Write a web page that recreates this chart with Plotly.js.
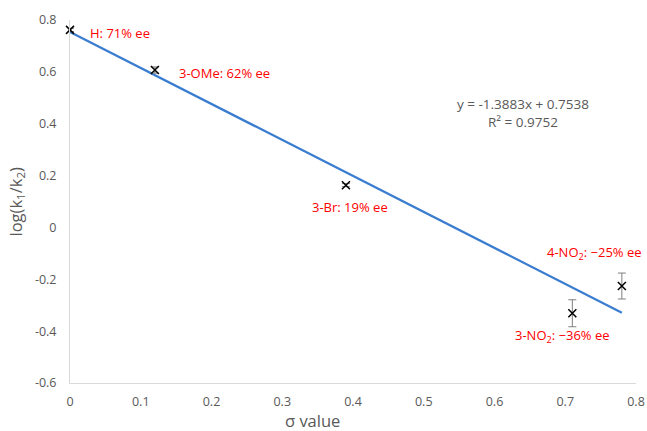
<!DOCTYPE html>
<html>
<head>
<meta charset="utf-8">
<script src="https://cdn.plot.ly/plotly-3.0.1.min.js"></script>
<style>html,body{margin:0;padding:0;background:#fff;}#chart{width:647px;height:431px;}</style>
</head>
<body>
<div id="chart"></div>
<script>
// Data
const sigma = [0, 0.12, 0.39, 0.71, 0.78];
const logRatio = [0.762, 0.607, 0.163, -0.331, -0.226];
const errLogRatio = [0.006, 0.012, 0.006, 0.052, 0.05];
const substituentLabels = ["H: 71% ee", "3-OMe: 62% ee", "3-Br: 19% ee", "3-NO<sub>2</sub>: \u221236% ee", "4-NO<sub>2</sub>: \u221225% ee"];
const labelX = [0.025, 0.151, 0.339, 0.626, 0.671];
const labelY = [0.75, 0.595, 0.077, -0.418, -0.097];
const trendX = [0, 0.78];
const trendY = [0.7538, -0.3291];
const equationText = "y = -1.3883x + 0.7538<br>R\u00b2 = 0.9752";
const xTickVals = [0, 0.1, 0.2, 0.3, 0.4, 0.5, 0.6, 0.7, 0.8];
const xTickText = ["0", "0.1", "0.2", "0.3", "0.4", "0.5", "0.6", "0.7", "0.8"];
const yTickVals = [-0.6, -0.4, -0.2, 0, 0.2, 0.4, 0.6, 0.8];
const yTickText = ["-0.6", "-0.4", "-0.2", "0", "0.2", "0.4", "0.6", "0.8"];

const FONT = "Open Sans, Liberation Sans, sans-serif";
const GREY = "#595959";

const traces = [
  {
    x: trendX, y: trendY, mode: "lines", type: "scatter",
    line: {color: "#3A7DD0", width: 2.25}, hoverinfo: "skip", showlegend: false,
    cliponaxis: false
  },
  {
    x: sigma, y: logRatio, mode: "markers", type: "scatter",
    marker: {symbol: "x-thin", size: 8, color: "#000", line: {color: "#000", width: 1.5}},
    error_y: {type: "data", array: errLogRatio, visible: true, color: "#7f7f7f", thickness: 1, width: 4},
    showlegend: false, cliponaxis: false
  }
];

const annotations = substituentLabels.map((t, i) => ({
  x: labelX[i], y: labelY[i], xref: "x", yref: "y", text: t, showarrow: false,
  xanchor: "left", yanchor: "middle", font: {family: FONT, size: 13, color: "#FF0000"}
}));
annotations.push({
  x: 0.64, y: 0.44, xref: "x", yref: "y", text: equationText, showarrow: false,
  xanchor: "center", yanchor: "middle", align: "center",
  font: {family: FONT, size: 13.5, color: GREY}
});
annotations.push({
  x: 0, y: 0.5, xref: "paper", yref: "paper", xshift: -55, text: "log(k<sub>1</sub>/k<sub>2</sub>)",
  textangle: -90, showarrow: false, xanchor: "center", yanchor: "middle",
  font: {family: FONT, size: 16.5, color: GREY}
});
annotations.push({
  x: 0.4276, y: 0, xref: "paper", yref: "paper", yshift: -37, text: "\u03c3 value",
  showarrow: false, xanchor: "center", yanchor: "middle",
  font: {family: FONT, size: 16.5, color: GREY}
});

const layout = {
  width: 647, height: 431,
  margin: {l: 70, r: 11, t: 20, b: 48},
  paper_bgcolor: "#fff", plot_bgcolor: "#fff",
  showlegend: false,
  xaxis: {
    range: [0, 0.8], tickvals: xTickVals, ticktext: xTickText,
    showgrid: false, zeroline: false, showline: true, linecolor: "#d9d9d9", linewidth: 1,
    ticks: "", ticklabelstandoff: 7,
    tickfont: {family: FONT, size: 12.5, color: GREY}
  },
  yaxis: {
    range: [-0.6, 0.8], tickvals: yTickVals, ticktext: yTickText,
    showgrid: false, zeroline: false, showline: true, linecolor: "#d9d9d9", linewidth: 1,
    ticks: "", ticklabelstandoff: 10,
    tickfont: {family: FONT, size: 12.5, color: GREY}
  },
  annotations: annotations
};

Plotly.newPlot("chart", traces, layout, {displayModeBar: false, staticPlot: true});
</script>
</body>
</html>
